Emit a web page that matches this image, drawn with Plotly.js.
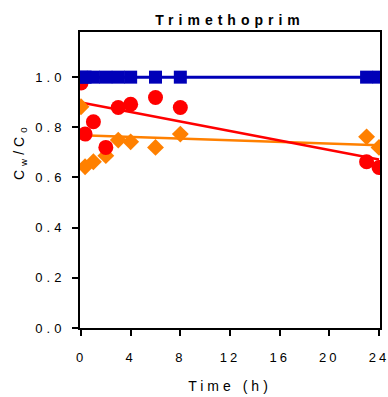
<!DOCTYPE html>
<html>
<head>
<meta charset="utf-8">
<script src="https://cdn.plot.ly/plotly-3.0.1.min.js"></script>
<style>
  html, body { margin: 0; padding: 0; background: #fff; }
  #chart { width: 388px; height: 397px; }
  .gtitle { letter-spacing: 5px; }
  .ytick text { letter-spacing: 4px; }
  .xtick text { letter-spacing: 3px; }
  .xtitle { letter-spacing: 4px; }
  .annotation-text { letter-spacing: 4px; }
</style>
</head>
<body>
<div id="chart"></div>
<script>
// Sampling times (h)
const timeH = [0, 0.33, 1, 2, 3, 4, 6, 8, 23, 24];

// Relative concentration Cw/C0 for each series
const blueVals   = [1.0, 1.0, 1.0, 1.0, 1.0, 1.0, 1.0, 1.0, 1.0, 1.0];
const redVals    = [0.977, 0.773, 0.822, 0.720, 0.879, 0.892, 0.919, 0.879, 0.663, 0.640];
const orangeVals = [0.882, 0.643, 0.663, 0.687, 0.749, 0.742, 0.720, 0.773, 0.762, 0.720];

// Trend lines (end points)
const fitT       = [0, 24];
const blueFit    = [1.0, 1.0];
const redFit     = [0.899, 0.672];
const orangeFit  = [0.768, 0.729];

const xTicks = [0, 4, 8, 12, 16, 20, 24];
const yTicks = [0, 0.2, 0.4, 0.6, 0.8, 1.0];

const BLUE = '#0000b8', RED = '#ff0000', ORANGE = '#ff8000';

const traces = [
  { x: fitT, y: orangeFit, mode: 'lines', line: { color: ORANGE, width: 2.5 }, hoverinfo: 'skip' },
  { x: fitT, y: redFit, mode: 'lines', line: { color: RED, width: 2.5 }, hoverinfo: 'skip' },
  { x: timeH, y: orangeVals, mode: 'markers',
    marker: { symbol: 'diamond', size: 13, color: ORANGE } },
  { x: timeH, y: redVals, mode: 'markers',
    marker: { symbol: 'circle', size: 15, color: RED } },
  { x: fitT, y: blueFit, mode: 'lines', line: { color: BLUE, width: 3 }, hoverinfo: 'skip' },
  { x: timeH, y: blueVals, mode: 'markers',
    marker: { symbol: 'square', size: 13, color: BLUE } }
];

const font = { family: 'Liberation Sans, Arial, sans-serif', size: 13, color: '#000' };
const titleFont = { family: font.family, size: 14, color: '#000' };

const layout = {
  width: 388, height: 397,
  margin: { l: 80, r: 8, t: 32, b: 69 },
  paper_bgcolor: '#fff', plot_bgcolor: '#fff',
  showlegend: false,
  font: font,
  title: { text: '<b>Trimethoprim</b>', font: { family: font.family, size: 14, color: '#000' },
           x: 0.593, xanchor: 'center', y: 0.95, yanchor: 'middle' },
  xaxis: {
    range: [-0.08, 24.08],
    tickvals: xTicks, ticktext: xTicks.map(String),
    ticks: 'outside', ticklen: 6, tickwidth: 2, tickcolor: '#000',
    showline: true, linecolor: '#000', linewidth: 2, mirror: true,
    showgrid: false, zeroline: false,
    ticklabelstandoff: 10, ticklabeloverflow: 'allow',
    tickfont: font,
    title: { text: 'Time (h)', font: titleFont, standoff: 18 }
  },
  yaxis: {
    range: [0, 1.18],
    tickvals: yTicks, ticktext: yTicks.map(v => v.toFixed(1)),
    ticks: 'outside', ticklen: 6, tickwidth: 2, tickcolor: '#000',
    showline: true, linecolor: '#000', linewidth: 2, mirror: true,
    showgrid: false, zeroline: false,
    ticklabelstandoff: 4, ticklabeloverflow: 'allow',
    tickfont: font
  },
  annotations: [{
    text: 'C<sub>w</sub>/C<sub>0</sub>',
    xref: 'paper', yref: 'paper', x: -0.2, y: 0.5, yshift: 28,
    xanchor: 'center', yanchor: 'middle', textangle: -90,
    showarrow: false, font: titleFont
  }]
};

Plotly.newPlot('chart', traces, layout, { displayModeBar: false, staticPlot: true });
</script>
</body>
</html>
